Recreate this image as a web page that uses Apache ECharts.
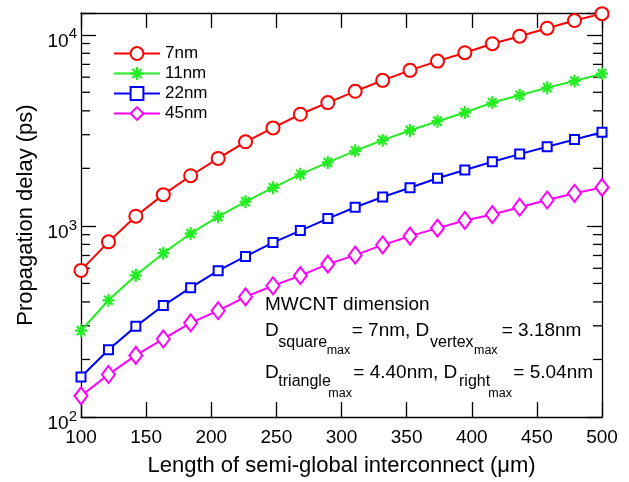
<!DOCTYPE html>
<html>
<head>
    <meta charset="utf-8">
    <title>Propagation delay vs length</title>
    <script src="https://cdn.jsdelivr.net/npm/echarts@6.0.0/dist/echarts.min.js"></script>
    <style>
        body { margin: 0; background: #fff; }
        #main { width: 629px; height: 482px; }
    </style>
</head>
<body>
<div id="main"></div>
<script type="text/javascript">
// interconnect length (um)
const lengths = [100, 121.1, 142.1, 163.2, 184.2, 205.3, 226.3, 247.4, 268.4, 289.5,
                 310.5, 331.6, 352.6, 373.7, 394.7, 415.8, 436.8, 457.9, 478.9, 500];
// propagation delay (ps)
const delay7nm  = [585, 825, 1124, 1457, 1830, 2255, 2754, 3257, 3839, 4418,
                   5061, 5775, 6513, 7283, 8055, 8977, 9833, 10824, 11873, 12900];
const delay11nm = [283, 408, 551, 720, 912, 1118, 1339, 1584, 1861, 2149,
                   2471, 2809, 3157, 3530, 3918, 4418, 4825, 5290, 5727, 6261];
const delay22nm = [162, 225, 298, 383, 475, 583, 692, 818, 945, 1092,
                   1252, 1417, 1584, 1774, 1960, 2165, 2375, 2593, 2834, 3093];
const delay45nm = [129, 167, 210, 256, 311, 360, 425, 486, 549, 631,
                   703, 795, 884, 973, 1068, 1146, 1252, 1366, 1481, 1590];
const seriesNames = ['7nm', '11nm', '22nm', '45nm'];
const minorTickValues = [200, 300, 400, 500, 600, 700, 800, 900,
                         2000, 3000, 4000, 5000, 6000, 7000, 8000, 9000];

const FONT = 'Liberation Sans, Arial, sans-serif';
// eight-spoke asterisk marker
const asterisk = 'path://M0,4.1L10,4.1L10,5.9L0,5.9Z M4.1,0L5.9,0L5.9,10L4.1,10Z ' +
    'M0.86,2.14L2.14,0.86L9.14,7.86L7.86,9.14Z M7.86,0.86L9.14,2.14L2.14,9.14L0.86,7.86Z';

var myChart = echarts.init(document.getElementById('main'));

function pairs(ys) {
    return ys.map((v, i) => [lengths[i], v]);
}

function lineSeries(name, ys, color, symbol, size) {
    return {
        name: name,
        type: 'line',
        data: pairs(ys),
        symbol: symbol,
        symbolSize: size,
        showAllSymbol: true,
        lineStyle: { color: color, width: 2 },
        itemStyle: { color: color },
        emphasis: { disabled: true },
        z: 3
    };
}

const axisLine = { show: true, lineStyle: { color: '#000', width: 1.3 } };

// text pieces for the annotation: [text, x, y(middle), fontSize]
const notes = [
    ['MWCNT dimension', 265, 304.4, 19],
    ['D', 265, 330.4, 19], ['square', 278.3, 343, 16], ['max', 326.7, 350.9, 12.5],
    ['= 7nm, D', 351.7, 330.4, 19], ['vertex', 430, 343, 16], ['max', 474, 350.9, 12.5],
    ['= 3.18nm', 501.7, 330.4, 19],
    ['D', 265, 373, 19], ['triangle', 278.3, 381.7, 16], ['max', 328.3, 394, 12.5],
    ['= 4.40nm, D', 353.3, 373, 19], ['right', 459, 381.7, 16], ['max', 488.3, 394, 12.5],
    ['= 5.04nm', 513.3, 373, 19]
];

var option = {
    animation: false,
    textStyle: { fontFamily: FONT },
    grid: { left: 81, right: 27, top: 13, bottom: 64 },
    legend: {
        data: seriesNames,
        orient: 'vertical',
        left: 113,
        top: 45,
        padding: 0,
        itemWidth: 46,
        itemHeight: 16,
        itemGap: 3,
        textStyle: { fontSize: 17, lineHeight: 16, color: '#000', fontFamily: FONT },
        selectedMode: false
    },
    xAxis: [{
        type: 'value',
        min: 100, max: 500, interval: 50,
        name: 'Length of semi-global interconnect (\u03bcm)',
        nameLocation: 'middle',
        nameGap: 38,
        nameTextStyle: { fontSize: 22, color: '#000', fontFamily: FONT },
        axisLine: axisLine,
        axisTick: { inside: true, length: 15, lineStyle: { color: '#000', width: 1.3 } },
        axisLabel: { fontSize: 19, color: '#000', margin: 11, fontFamily: FONT },
        splitLine: { show: false }
    }, {
        type: 'value',
        position: 'top',
        min: 100, max: 500, interval: 50,
        axisLine: axisLine,
        axisTick: { inside: true, length: 15, lineStyle: { color: '#000', width: 1.3 } },
        axisLabel: { show: false },
        splitLine: { show: false }
    }],
    yAxis: [{
        type: 'log',
        logBase: 10,
        min: 100, max: 13000,
        name: 'Propagation delay (ps)',
        nameLocation: 'middle',
        nameGap: 44,
        nameTextStyle: { fontSize: 22, color: '#000', fontFamily: FONT },
        axisLine: axisLine,
        axisTick: { inside: true, length: 15, lineStyle: { color: '#000', width: 1.3 } },
        axisLabel: {
            margin: 4,
            padding: [8, 0, 0, 0],
            color: '#000',
            formatter: function (v) {
                const lg = Math.log10(v);
                const e = Math.round(lg);
                if (Math.abs(lg - e) > 1e-6) return '';
                return '{b|10}{s|' + e + '}';
            },
            rich: {
                b: { fontSize: 19, color: '#000', fontFamily: FONT, verticalAlign: 'bottom' },
                s: { fontSize: 15, color: '#000', fontFamily: FONT, verticalAlign: 'top', padding: [0, 0, 9, 0] }
            }
        },
        splitLine: { show: false }
    }, {
        type: 'log',
        logBase: 10,
        position: 'right',
        min: 100, max: 13000,
        axisLine: axisLine,
        axisTick: { inside: true, length: 15, lineStyle: { color: '#000', width: 1.3 } },
        axisLabel: { show: false },
        splitLine: { show: false }
    }],
    series: [
        lineSeries('7nm', delay7nm, '#ff0000', 'emptyCircle', 13),
        lineSeries('11nm', delay11nm, '#22ee22', asterisk, [12, 13]),
        lineSeries('22nm', delay22nm, '#0000ff', 'emptyRect', 9),
        lineSeries('45nm', delay45nm, '#ff00ff', 'emptyDiamond', [13, 17]),
        {
            // minor log ticks on left and right frame
            type: 'custom',
            silent: true,
            data: minorTickValues.map(v => [100, v]),
            encode: { x: 0, y: 1 },
            renderItem: function (params, api) {
                const v = api.value(1);
                const pL = api.coord([100, v]);
                const pR = api.coord([500, v]);
                const st = { stroke: '#000', lineWidth: 1.3 };
                return {
                    type: 'group',
                    children: [
                        { type: 'line', shape: { x1: pL[0], y1: pL[1], x2: pL[0] + 9, y2: pL[1] }, style: st },
                        { type: 'line', shape: { x1: pR[0] - 9, y1: pR[1], x2: pR[0], y2: pR[1] }, style: st }
                    ]
                };
            },
            z: 1
        }
    ],
    graphic: notes.map(n => ({
        type: 'text',
        x: n[1],
        y: n[2],
        silent: true,
        style: {
            text: n[0],
            fontSize: n[3],
            fontFamily: FONT,
            fill: '#000',
            verticalAlign: 'middle'
        }
    }))
};

myChart.setOption(option);
</script>
</body>
</html>
